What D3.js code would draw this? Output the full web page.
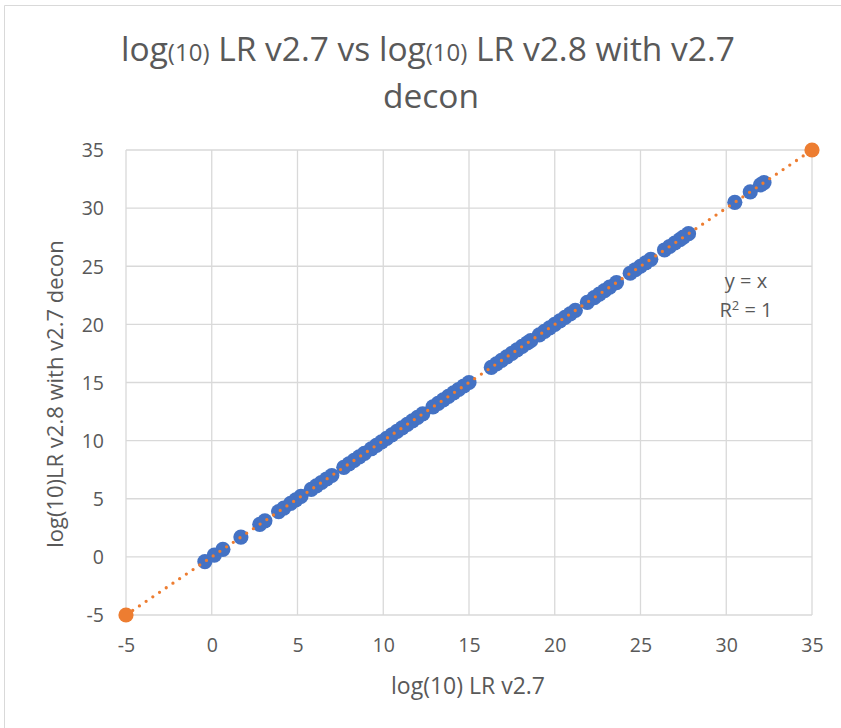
<!DOCTYPE html>
<html>
<head>
<meta charset="utf-8">
<script src="https://cdn.jsdelivr.net/npm/d3@7.9.0/dist/d3.min.js"></script>
<style>
  body { margin: 0; background: #fff; }
  svg text { font-family: "Open Sans", "Noto Sans", sans-serif; fill: #595959; }
</style>
</head>
<body>
<svg id="chart" width="841" height="728"></svg>
<script>
// log(10) LR v2.7 (x) against log(10) LR v2.8 with v2.7 decon (y)
const lrV27 = [
  -0.4, 0.15, 0.65, 1.7, 2.8, 3.1, 3.9, 4.2, 4.6, 4.9, 5.2, 5.8, 6.1, 6.4, 6.7, 7.0,
  7.7, 8.0, 8.3, 8.6, 8.9, 9.3, 9.6, 9.9, 10.2, 10.5, 10.8, 11.1, 11.4, 11.7, 12.0, 12.3,
  12.9, 13.2, 13.5, 13.8, 14.1, 14.4, 14.7, 15.0,
  16.3, 16.6, 16.9, 17.2, 17.5, 17.8, 18.1, 18.4, 18.6,
  19.1, 19.4, 19.7, 20.0, 20.3, 20.6, 20.9, 21.2,
  21.9, 22.3, 22.6, 22.9, 23.2, 23.6,
  24.4, 24.7, 25.0, 25.3, 25.6,
  26.4, 26.7, 27.0, 27.3, 27.5, 27.8,
  30.5, 31.4, 32.0, 32.2
];
const lrV28Decon = [
  -0.4, 0.15, 0.65, 1.7, 2.8, 3.1, 3.9, 4.2, 4.6, 4.9, 5.2, 5.8, 6.1, 6.4, 6.7, 7.0,
  7.7, 8.0, 8.3, 8.6, 8.9, 9.3, 9.6, 9.9, 10.2, 10.5, 10.8, 11.1, 11.4, 11.7, 12.0, 12.3,
  12.9, 13.2, 13.5, 13.8, 14.1, 14.4, 14.7, 15.0,
  16.3, 16.6, 16.9, 17.2, 17.5, 17.8, 18.1, 18.4, 18.6,
  19.1, 19.4, 19.7, 20.0, 20.3, 20.6, 20.9, 21.2,
  21.9, 22.3, 22.6, 22.9, 23.2, 23.6,
  24.4, 24.7, 25.0, 25.3, 25.6,
  26.4, 26.7, 27.0, 27.3, 27.5, 27.8,
  30.5, 31.4, 32.0, 32.2
];
// the two orange anchor points (also the ends of the y = x trendline)
const anchorX = [-5, 35];
const anchorY = [-5, 35];
const tickValues = [-5, 0, 5, 10, 15, 20, 25, 30, 35];

const svg = d3.select("#chart");
const blue = "#4472c4";
const orange = "#ed7d31";
const grid = "#d9d9d9";

// outer chart frame
svg.append("path")
  .attr("d", "M4.5,728 V5.5 H841")
  .attr("fill", "none")
  .attr("stroke", grid)
  .attr("stroke-width", 1);

const x = d3.scaleLinear().domain([-5, 35]).range([126, 812]);
const y = d3.scaleLinear().domain([-5, 35]).range([615, 150]);

// gridlines
svg.append("g")
  .selectAll("line.v")
  .data(tickValues)
  .join("line")
  .attr("x1", (d) => x(d)).attr("x2", (d) => x(d))
  .attr("y1", y(-5)).attr("y2", y(35))
  .attr("stroke", grid).attr("stroke-width", 1.3);

svg.append("g")
  .selectAll("line.h")
  .data(tickValues)
  .join("line")
  .attr("x1", x(-5)).attr("x2", x(35))
  .attr("y1", (d) => y(d)).attr("y2", (d) => y(d))
  .attr("stroke", grid).attr("stroke-width", 1.3);

// axes (labels only, Excel style, plain hyphen for negatives)
const fmt = (d) => String(d);
const xAxis = svg.append("g")
  .attr("transform", `translate(0,${y(-5)})`)
  .call(d3.axisBottom(x).tickValues(tickValues).tickSize(0).tickPadding(23).tickFormat(fmt));
const yAxis = svg.append("g")
  .attr("transform", `translate(${x(-5)},0)`)
  .call(d3.axisLeft(y).tickValues(tickValues).tickSize(0).tickPadding(22).tickFormat(fmt));
[xAxis, yAxis].forEach((g) => {
  g.select(".domain").remove();
  g.selectAll("text")
    .attr("fill", "#595959")
    .style("font-size", "19.5px");
});
yAxis.selectAll("text").attr("dy", "0.35em");

// data points
svg.append("g")
  .selectAll("circle")
  .data(lrV27.map((v, i) => [v, lrV28Decon[i]]))
  .join("circle")
  .attr("cx", (d) => x(d[0]))
  .attr("cy", (d) => y(d[1]))
  .attr("r", 7.6)
  .attr("fill", blue);

// linear trendline y = x, round-dotted
svg.append("line")
  .attr("x1", x(anchorX[0])).attr("y1", y(anchorY[0]))
  .attr("x2", x(anchorX[1])).attr("y2", y(anchorY[1]))
  .attr("stroke", orange)
  .attr("stroke-width", 3.3)
  .attr("stroke-linecap", "round")
  .attr("stroke-dasharray", "0 8.1");

svg.append("g")
  .selectAll("circle")
  .data(anchorX.map((v, i) => [v, anchorY[i]]))
  .join("circle")
  .attr("cx", (d) => x(d[0]))
  .attr("cy", (d) => y(d[1]))
  .attr("r", 7.6)
  .attr("fill", orange);

// trendline label
svg.append("text")
  .attr("x", 746).attr("y", 288)
  .attr("text-anchor", "middle")
  .style("font-size", "20px")
  .text("y = x");
const r2 = svg.append("text")
  .attr("x", 746).attr("y", 317)
  .attr("text-anchor", "middle")
  .style("font-size", "20px");
r2.append("tspan").text("R");
r2.append("tspan").attr("dy", -7).style("font-size", "13px").text("2");
r2.append("tspan").attr("dy", 7).text(" = 1");

// title
const title = svg.append("text")
  .attr("x", 428).attr("y", 61)
  .attr("text-anchor", "middle")
  .style("font-size", "33.5px");
title.append("tspan").text("log");
title.append("tspan").style("font-size", "24px").text("(10)");
title.append("tspan").text(" LR v2.7 vs log");
title.append("tspan").style("font-size", "24px").text("(10)");
title.append("tspan").text(" LR v2.8 with v2.7");
svg.append("text")
  .attr("x", 431).attr("y", 108)
  .attr("text-anchor", "middle")
  .style("font-size", "33.5px")
  .text("decon");

// axis titles
svg.append("text")
  .attr("x", 468).attr("y", 694)
  .attr("text-anchor", "middle")
  .style("font-size", "23px")
  .text("log(10) LR v2.7");
svg.append("text")
  .attr("transform", "translate(63,394) rotate(-90)")
  .attr("text-anchor", "middle")
  .style("font-size", "22px")
  .text("log(10)LR v2.8 with v2.7 decon");
</script>
</body>
</html>
